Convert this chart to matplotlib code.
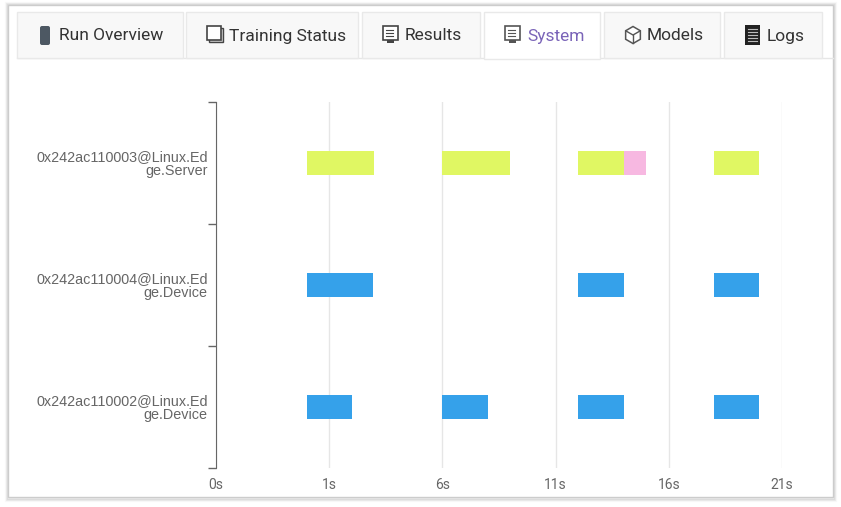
import numpy as np
import matplotlib.pyplot as plt
from matplotlib.patches import Rectangle, FancyBboxPatch, RegularPolygon

# hosts, top to bottom
hosts = ['0x242ac110003@Linux.Ed\nge.Server',
         '0x242ac110004@Linux.Ed\nge.Device',
         '0x242ac110002@Linux.Ed\nge.Device']

# bars per host: start, length (axis units), colour
server_starts = [4, 10, 16, 18, 22]
server_widths = [3, 3, 2, 1, 2]
server_colors = ['#e0f763', '#e0f763', '#e0f763', '#f7b8e1', '#e0f763']

dev4_starts = [4, 16, 22]
dev4_widths = [2.95, 2, 2]
dev4_colors = ['#35a1ea'] * 3

dev2_starts = [4, 10, 16, 22]
dev2_widths = [2, 2, 2, 2]
dev2_colors = ['#35a1ea'] * 4

tick_pos = [0, 5, 10, 15, 20, 25]
tick_labels = ['0s', '1s', '6s', '11s', '16s', '21s']

tabs = ['Run Overview', 'Training Status', 'Results', 'System', 'Models', 'Logs']
tab_edges = [(17, 183), (186, 358), (362, 480), (484, 600), (604, 720), (724, 822)]
active_tab = 'System'

W, H = 841, 507
fig = plt.figure(figsize=(W / 100, H / 100), dpi=100)
fig.patch.set_facecolor('white')

# page layer in pixel coordinates
bg = fig.add_axes([0, 0, 1, 1])
bg.set_xlim(0, W)
bg.set_ylim(H, 0)
bg.axis('off')

# card with a soft shadow
for i, a in enumerate([0.16, 0.10, 0.05]):
    bg.add_patch(Rectangle((8 - i, 5 - i), 825 + 2 * i + 1, 492 + 2 * i + 2,
                           facecolor='none', edgecolor='#777777', alpha=a, lw=1.5))
bg.add_patch(Rectangle((8, 5), 825, 492, facecolor='white', edgecolor='#cccccc', lw=1))

# tab strip
bg.plot([17, 833], [58, 58], color='#e6e6e6', lw=1)
for name, (x0, x1) in zip(tabs, tab_edges):
    active = name == active_tab
    bg.add_patch(Rectangle((x0, 12), x1 - x0, 46 if not active else 47,
                           facecolor='white' if active else '#f8f8f8',
                           edgecolor='#e9e9e9', lw=1, zorder=2))
    txt_color = '#7a64b8' if active else '#333333'
    bg.text(x0 + 42 if name == 'Run Overview' else x0 + 43, 36, name,
            fontsize=12.5, family='Roboto', color=txt_color, va='center', ha='left', zorder=3)

# tab icons (rough shapes)
bg.add_patch(FancyBboxPatch((40, 26), 10, 19, boxstyle='round,pad=0,rounding_size=2',
                            facecolor='#4d5863', edgecolor='none', zorder=3))
bg.add_patch(Rectangle((209, 28), 14, 14, facecolor='#cfcfcf', edgecolor='#444', lw=1, zorder=3))
bg.add_patch(Rectangle((207, 26), 14, 14, facecolor='white', edgecolor='#444', lw=1.2, zorder=3))
for x0, c in [(383, '#444444'), (505, '#555555')]:
    bg.add_patch(Rectangle((x0, 26), 15, 14, facecolor='white', edgecolor=c, lw=1.2, zorder=3))
    bg.add_patch(Rectangle((x0 + 4, 40), 7, 3, facecolor=c, edgecolor='none', zorder=3))
    for yy in [30, 33, 36]:
        bg.plot([x0 + 3, x0 + 10], [yy, yy], color=c, lw=0.8, zorder=3)
bg.add_patch(RegularPolygon((633, 35), 6, radius=8.5, facecolor='white',
                            edgecolor='#555', lw=1.1, zorder=3))
bg.plot([626, 633, 640], [31, 35, 31], color='#555', lw=1, zorder=4)
bg.plot([633, 633], [35, 43], color='#555', lw=1, zorder=4)
bg.add_patch(Rectangle((745, 25), 15, 20, facecolor='#222222', edgecolor='none', zorder=3))
for yy in [29, 32, 35, 38, 41]:
    bg.plot([748, 757], [yy, yy], color='#bbbbbb', lw=0.8, zorder=4)

# chart area: x from 216 to 782 px, y from 102 to 468 px
ax = fig.add_axes([216 / W, 1 - 468 / H, (782 - 216) / W, (468 - 102) / H])
ax.set_facecolor('none')
ax.set_xlim(0, 25)
ax.set_ylim(3, 0)

rows = [(server_starts, server_widths, server_colors),
        (dev4_starts, dev4_widths, dev4_colors),
        (dev2_starts, dev2_widths, dev2_colors)]
for i, (starts, widths, colors) in enumerate(rows):
    ax.barh(np.full(len(starts), i + 0.5), widths, left=starts, height=0.19,
            color=colors, edgecolor='none', zorder=3)

ax.set_xticks(tick_pos)
ax.set_xticklabels(tick_labels, fontsize=10, color='#666666', family='Roboto')
ax.tick_params(axis='x', length=0, pad=7)
ax.grid(axis='x', color='#e6e6e6', lw=1, zorder=0)

ax.set_yticks([0, 1, 2, 3])
ax.set_yticklabels([])
ax.set_yticks([0.5, 1.5, 2.5], minor=True)
ax.set_yticklabels(hosts, minor=True, fontsize=10.4, color='#666666',
                   family='Liberation Sans', linespacing=1.0)
ax.tick_params(axis='y', which='major', length=6, color='#666666', width=1)
ax.tick_params(axis='y', which='minor', length=0, pad=6)

for s in ['top', 'right', 'bottom']:
    ax.spines[s].set_visible(False)
ax.spines['left'].set_color('#666666')

fig.savefig('out.png', dpi=100)
